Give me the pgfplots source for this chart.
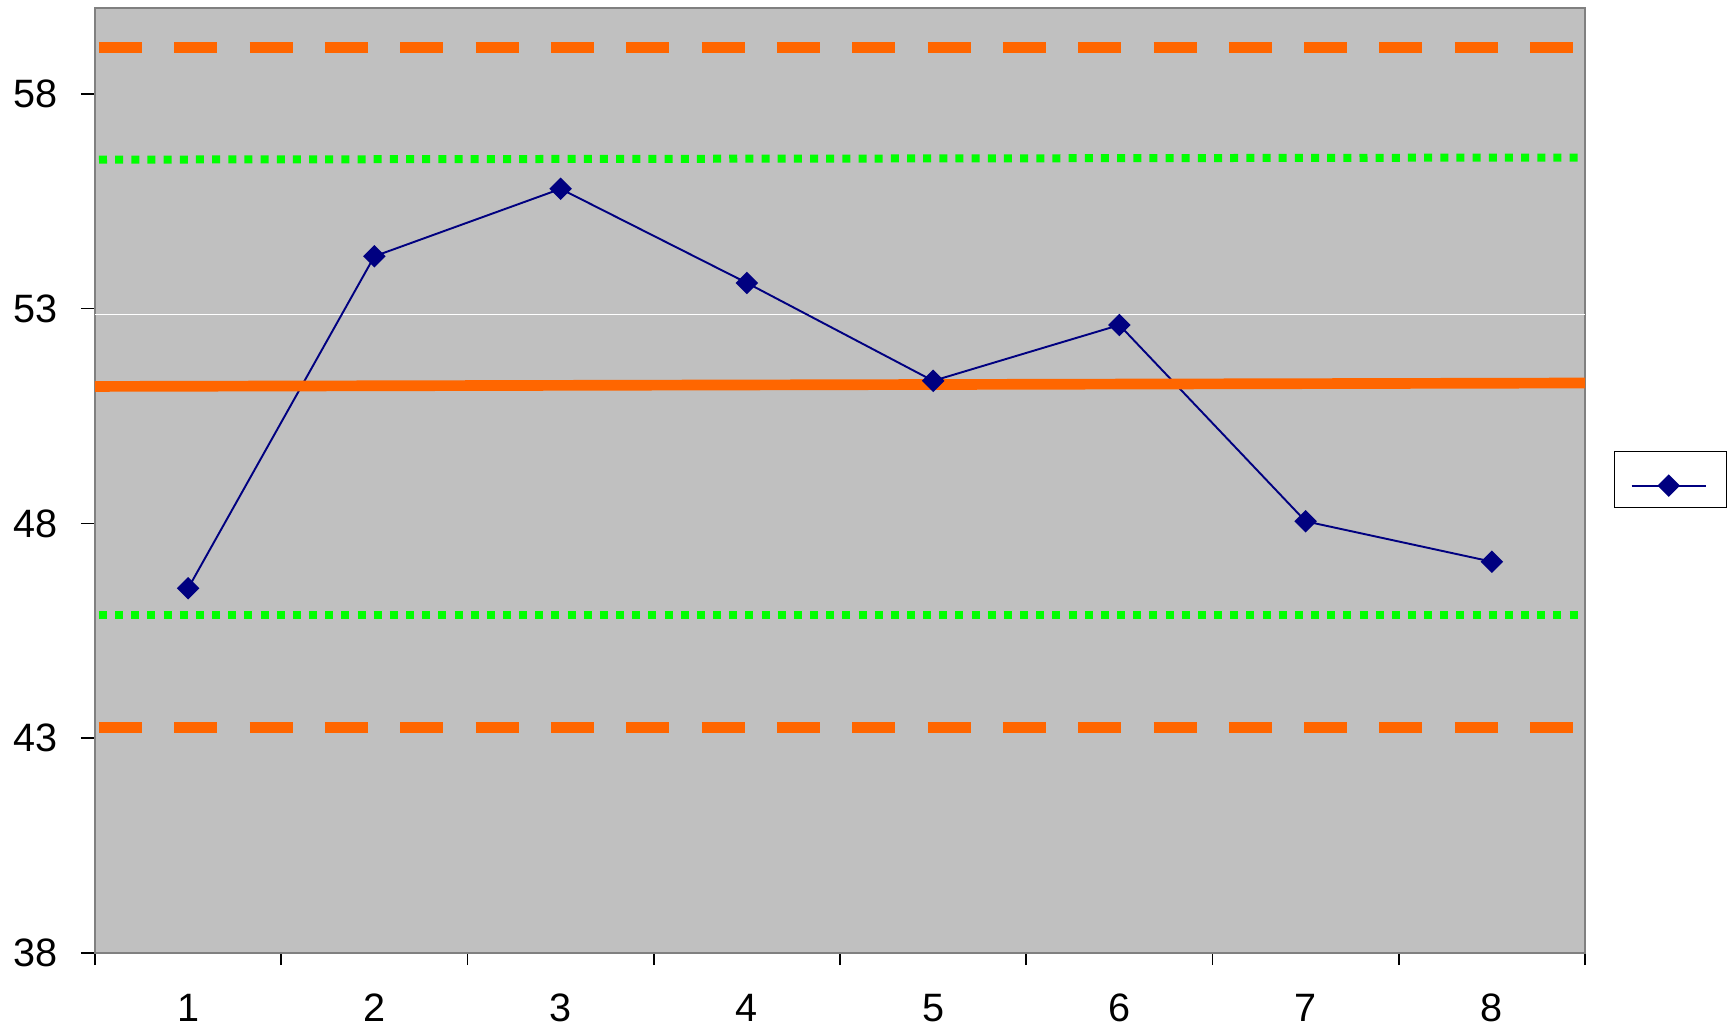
\documentclass[border=0pt]{standalone}
\usepackage{fontspec}
\setmainfont{Liberation Sans}
\usepackage{pgfplots}
\pgfplotsset{compat=1.18}
\definecolor{bg}{RGB}{192,192,192}
\definecolor{frame}{RGB}{128,128,128}
\definecolor{navy}{RGB}{0,0,128}
\definecolor{orng}{RGB}{255,102,0}
\definecolor{grn}{RGB}{0,255,0}
\begin{document}
\begin{tikzpicture}
\path[use as bounding box] (0,0) rectangle (432.75pt,258pt);
\begin{axis}[
  at={(23.75pt,19.75pt)}, anchor=south west,
  scale only axis, width=372.5pt, height=236.25pt,
  xmin=0.5, xmax=8.5, ymin=38, ymax=60,
  axis background/.style={fill=bg},
  axis line style={draw=frame, line width=0.5pt},
  xtick={1,...,8}, ytick={38,43,...,58},
  minor xtick={0.5,1.5,...,8.5},
  xtick pos=bottom, ytick pos=left, tick align=outside,
  major tick length=3.5pt, minor tick length=3pt,
  major x tick style={draw=none},
  every tick/.style={black, line width=0.4pt},
  minor tick style={black, line width=0.4pt},
  /pgf/number format/assume math mode=true,
  tick label style={font=\fontsize{9.9}{11}\selectfont},
  yticklabel style={anchor=east, inner sep=0pt, xshift=-5.75pt},
  xticklabel style={anchor=north, inner sep=0pt, yshift=-6.5pt},
  legend style={at={(1.0195,0.501)}, anchor=west, draw=black, line width=0.35pt,
    fill=white, inner xsep=4pt, inner ysep=3pt, nodes={inner sep=0pt},
    /tikz/every even column/.append style={column sep=2pt}},
  legend image code/.code={\path (0pt,5.3pt); \draw[mark repeat=2,mark phase=2,#1] plot coordinates {(0pt,0pt) (9.25pt,0pt) (18.5pt,0pt)};},
]
\addplot[white, line width=0.25pt, forget plot] coordinates {(0.5,52.86) (8.5,52.86)};
\addplot[navy, line width=0.48pt, mark=square*, mark size=1.75pt, mark options={rotate=45, solid, fill=navy}]
  coordinates {(1,46.49) (2,54.22) (3,55.79) (4,53.60) (5,51.32) (6,52.62) (7,48.05) (8,47.11)};
\addlegendentry{}
\addplot[orng, line width=2.67pt, dash pattern=on 10.75pt off 8.08pt, dash phase=17.83pt, forget plot]
  coordinates {(0.5,59.08) (8.5,59.08)};
\addplot[orng, line width=2.67pt, dash pattern=on 10.75pt off 8.08pt, dash phase=17.83pt, forget plot]
  coordinates {(0.5,43.25) (8.5,43.25)};
\addplot[grn, line width=2pt, dash pattern=on 2pt off 2.04pt, dash phase=3.04pt, forget plot]
  coordinates {(0.5,56.47) (8.5,56.52)};
\addplot[grn, line width=2pt, dash pattern=on 2pt off 2.04pt, dash phase=3.04pt, forget plot]
  coordinates {(0.5,45.87) (8.5,45.87)};
\addplot[orng, line width=2.67pt, forget plot]
  coordinates {(0.5,51.19) (8.5,51.27)};
\end{axis}
\end{tikzpicture}
\end{document}
